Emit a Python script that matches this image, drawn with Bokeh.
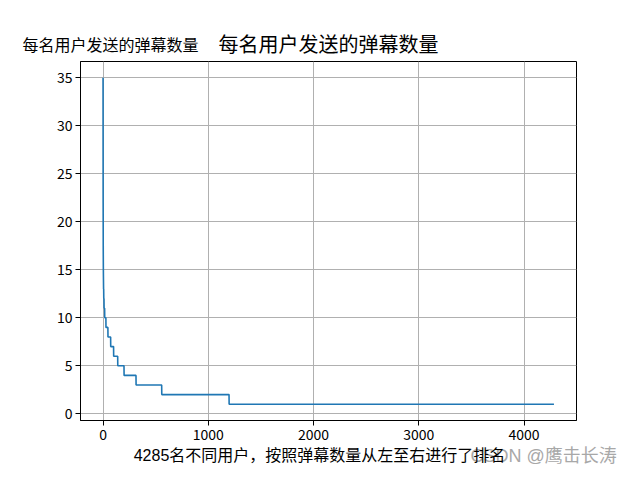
import numpy as np
from bokeh.plotting import figure
from bokeh.models import Range1d, FixedTicker, Label, ColumnDataSource
from bokeh.embed import file_html
from bokeh.resources import INLINE

# --- data ---
top_user_counts = [35, 22, 17, 15, 14, 13, 13, 12, 12, 12,
                   11, 11, 11, 11, 11, 11,
                   10, 10, 10, 10, 10, 10, 10, 10, 10, 10, 10, 10]
step_values = [9, 8, 7, 6, 5, 4, 3, 2, 1]
step_users = [19, 26, 28, 39, 60, 114, 244, 640, 3087]
x_ticks = [0, 1000, 2000, 3000, 4000]
y_ticks = [0, 5, 10, 15, 20, 25, 30, 35]
title_text = "每名用户发送的弹幕数量"
ylabel_text = "每名用户发送的弹幕数量"
xlabel_text = "4285名不同用户，按照弹幕数量从左至右进行了排名"
watermark_text = "CSDN @鹰击长涛"

counts = list(top_user_counts) + list(np.repeat(step_values, step_users))
ranks = list(range(len(counts)))
src = ColumnDataSource(dict(x=ranks, y=counts))

FONT = "Noto Sans CJK SC"
LFONT = "Liberation Sans, Noto Sans CJK SC"
n = len(counts)
x0, x1 = -0.05 * (n - 1), (n - 1) * 1.05
ypad = 0.05 * (max(counts) - min(counts))
y0, y1 = min(counts) - ypad, max(counts) + ypad

W, H = 624, 464
BL, BR, BT, BB = 80, 48, 61, 44
FW, FH = W - BL - BR, H - BT - BB
sx = (x1 - x0) / FW   # data units per pixel
sy = (y1 - y0) / FH

p = figure(width=W, height=H, output_backend="svg", toolbar_location=None,
           x_range=Range1d(x0, x1), y_range=Range1d(y0, y1),
           min_border_left=BL, min_border_right=BR,
           min_border_top=BT, min_border_bottom=BB)
p.title.visible = False

p.line("x", "y", source=src, line_color="#1f77b4", line_width=1.6)

p.outline_line_color = "black"
p.outline_line_alpha = 1
p.outline_line_width = 1
p.background_fill_color = "white"
p.border_fill_color = "white"

for ax in (p.xaxis[0], p.yaxis[0]):
    ax.axis_line_color = "black"
    ax.major_tick_line_color = "black"
    ax.major_tick_out = 5
    ax.major_tick_in = 0
    ax.minor_tick_line_color = None
    ax.major_label_text_font = FONT
    ax.major_label_text_font_size = "14px"
    ax.major_label_text_color = "black"
    ax.major_label_standoff = 3

p.xaxis[0].ticker = FixedTicker(ticks=x_ticks)
p.yaxis[0].ticker = FixedTicker(ticks=y_ticks)

p.xgrid.grid_line_color = "#b0b0b0"
p.ygrid.grid_line_color = "#b0b0b0"
p.xgrid.grid_line_width = 1
p.ygrid.grid_line_width = 1
p.xgrid.ticker = FixedTicker(ticks=x_ticks)
p.ygrid.ticker = FixedTicker(ticks=y_ticks)

# texts: placed in side panels (so they are not clipped), positioned in data units
p.add_layout(Label(x=(x0 + x1) / 2, y=y1 + 17 * sy,
                   text=title_text, text_font=LFONT, text_font_size="20px",
                   text_align="center", text_baseline="middle", text_color="black"),
             "above")
p.add_layout(Label(x=x0 + 30 * sx, y=y1 + 16 * sy,
                   text=ylabel_text, text_font=LFONT, text_font_size="16px",
                   text_align="center", text_baseline="middle", text_color="black"),
             "above")
p.add_layout(Label(x=x0 + 390 * sx, y=y0 - 35 * sy,
                   text=watermark_text, text_font=LFONT, text_font_size="18px",
                   text_align="left", text_baseline="middle", text_color="#a8a8a8"),
             "above")
p.add_layout(Label(x=x0 + 239 * sx, y=y0 - 35 * sy,
                   text=xlabel_text, text_font=LFONT, text_font_size="16px",
                   text_align="center", text_baseline="middle", text_color="black"),
             "below")

open("out.html", "w").write(file_html(p, INLINE))
